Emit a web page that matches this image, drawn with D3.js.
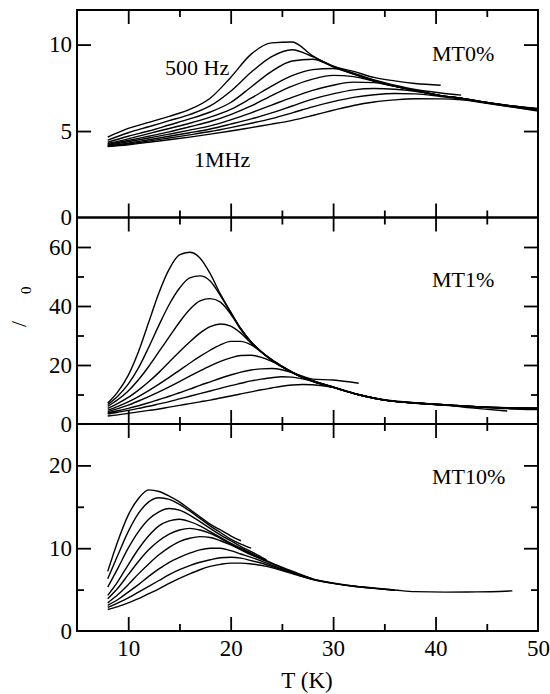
<!DOCTYPE html>
<html>
<head>
<meta charset="utf-8">
<script src="https://cdn.jsdelivr.net/npm/d3@7"></script>
<style>
  body { margin: 0; background: #fff; }
  svg { display: block; }
  text { font-family: "Liberation Serif", "Times New Roman", serif; fill: #000; }
</style>
</head>
<body>
<div id="chart"></div>
<script>
// temperature grids (K) for each panel
const tempsTop = [8, 10, 12, 14, 16, 18, 20, 22, 24, 26, 28, 30, 32, 34, 36, 38, 40.5, 42.5, 45, 47.5, 50];
const tempsMid = [8, 9, 10, 11, 12, 13, 14, 15, 16, 17, 18, 19, 20, 21, 22, 23, 24, 25, 26, 27, 28, 30, 32.5, 35, 38, 41, 44, 47, 50];
const tempsBot = [8, 9, 10, 11, 12, 13, 14, 15, 16, 17, 18, 19, 20, 21, 22, 23.5, 25, 26.5, 28, 30, 32, 34, 36, 38, 41, 44, 47.5];

// MT0% : 500 Hz ... 1 MHz (shorter arrays end earlier)
const mt0 = [
  [4.65, 5.15, 5.5, 5.85, 6.25, 6.9, 8.1, 9.45, 10.1, 10.15, 9.35, 8.75, 8.45, 8.1, 7.9, 7.75, 7.65],
  [4.47, 4.9, 5.25, 5.6, 5.95, 6.45, 7.3, 8.4, 9.3, 9.7, 9.3, 8.75, 8.35, 7.95, 7.65, 7.4, 7.2, 7.08],
  [4.35, 4.7, 5.0, 5.35, 5.7, 6.1, 6.65, 7.55, 8.45, 9.05, 9.15, 8.72, 8.3, 7.9, 7.6, 7.35, 7.05, 6.9, 6.65, 6.45, 6.3],
  [4.28, 4.55, 4.85, 5.15, 5.45, 5.8, 6.25, 6.9, 7.6, 8.2, 8.55, 8.62, 8.3, 7.9, 7.6, 7.35, 7.05, 6.9, 6.65, 6.45, 6.28],
  [4.22, 4.45, 4.7, 4.95, 5.25, 5.55, 5.95, 6.45, 7.05, 7.6, 8.0, 8.22, 8.15, 7.88, 7.6, 7.35, 7.05, 6.9, 6.65, 6.45, 6.27],
  [4.18, 4.38, 4.6, 4.82, 5.05, 5.3, 5.65, 6.05, 6.5, 6.95, 7.35, 7.65, 7.83, 7.8, 7.58, 7.35, 7.05, 6.9, 6.65, 6.43, 6.25],
  [4.14, 4.3, 4.5, 4.7, 4.9, 5.12, 5.4, 5.7, 6.05, 6.45, 6.85, 7.15, 7.38, 7.46, 7.42, 7.3, 7.05, 6.88, 6.64, 6.42, 6.22],
  [4.12, 4.25, 4.42, 4.6, 4.78, 4.97, 5.2, 5.45, 5.72, 6.05, 6.4, 6.7, 6.95, 7.1, 7.17, 7.15, 7.0, 6.86, 6.62, 6.4, 6.2],
  [4.1, 4.2, 4.35, 4.5, 4.65, 4.82, 5.0, 5.2, 5.4, 5.62, 5.9, 6.2, 6.48, 6.68, 6.8, 6.87, 6.86, 6.8, 6.6, 6.38, 6.15]
];

// MT1%
const mt1 = [
  [7.1, 11, 16.5, 24.5, 34.5, 44.5, 52.5, 57.3, 58.2, 56.3, 51, 44, 38, 32.3, 27.8, 24.5, 21.8, 19.6, 17.6, 16.2, 15.2, 14.9, 13.8],
  [6.6, 9.5, 13.5, 19, 26, 33.5, 40.5, 46, 49.5, 50.2, 48.5, 43.5, 37.8, 32.2, 27.8, 24.5, 21.8, 19.6, 17.6, 16.0, 14.7, 12.6, 10.0, 8.2, 7.2, 6.5, 5.9, 5.5, 5.35],
  [6.0, 8.3, 11.2, 15, 19.5, 24.5, 29.5, 34.5, 38.8, 41.7, 42.5, 41.3, 37.3, 32.0, 27.7, 24.4, 21.7, 19.5, 17.5, 15.9, 14.6, 12.5, 9.9, 8.1, 7.1, 6.3, 5.3, 4.4],
  [5.3, 7.0, 9.0, 11.5, 14.3, 17.5, 21, 24.5, 27.8, 30.8, 33, 33.9, 33.2, 30.8, 27.4, 24.3, 21.6, 19.4, 17.4, 15.8, 14.5, 12.4, 9.9, 8.1, 7.0, 6.4],
  [4.7, 6.0, 7.5, 9.3, 11.3, 13.5, 15.8, 18.2, 20.6, 22.9, 25, 26.8, 28, 28, 26.8, 24.4, 21.7, 19.4, 17.4, 15.8, 14.5, 12.4, 9.9, 8.1, 7.1, 6.5, 5.9, 5.45, 5.2],
  [4.2, 5.2, 6.4, 7.8, 9.3, 10.9, 12.6, 14.4, 16.2, 18, 19.7, 21.2, 22.4, 23.2, 23.3, 22.6, 21.2, 19.4, 17.5, 15.8, 14.5, 12.4, 9.9, 8.1, 7.1, 6.5, 5.9, 5.5, 5.3],
  [3.8, 4.5, 5.3, 6.2, 7.2, 8.3, 9.4, 10.6, 11.8, 13.1, 14.3, 15.5, 16.6, 17.6, 18.3, 18.7, 18.8, 18.4, 17.4, 16.0, 14.7, 12.5, 9.9, 8.1, 7.1, 6.4, 5.8, 5.2, 4.9],
  [3.4, 4.0, 4.6, 5.3, 6.0, 6.8, 7.6, 8.5, 9.4, 10.3, 11.2, 12.1, 13.0, 13.8, 14.6, 15.2, 15.7, 16.0, 15.9, 15.3, 14.5, 12.5, 9.9, 8.1, 7.1, 6.4, 5.8, 5.3, 5.1],
  [2.7, 3.1, 3.6, 4.1, 4.6, 5.1, 5.7, 6.3, 6.9, 7.5, 8.1, 8.8, 9.5, 10.2, 10.9, 11.6, 12.2, 12.8, 13.2, 13.4, 13.3, 12.4, 9.9, 8.1, 7.1, 6.4, 5.9, 5.5, 5.4]
];

// MT10%
const mt10 = [
  [7.2, 10.9, 14.0, 16.0, 17.05, 16.85, 16.3, 15.6, 14.7, 13.8, 12.9, 12.2, 11.5, 10.9],
  [6.3, 9.2, 12.0, 14.2, 15.6, 16.1, 15.9, 15.3, 14.5, 13.6, 12.7, 11.9, 11.1, 10.5, 10.0],
  [5.3, 7.6, 10.0, 12.0, 13.5, 14.4, 14.8, 14.6, 14.0, 13.2, 12.4, 11.6, 10.9, 10.2, 9.6, 8.6],
  [4.3, 6.0, 8.0, 9.9, 11.5, 12.7, 13.3, 13.5, 13.2, 12.7, 12.0, 11.3, 10.6, 10.0, 9.4, 8.5],
  [3.9, 5.2, 6.8, 8.4, 9.8, 10.9, 11.7, 12.2, 12.4, 12.2, 11.8, 11.2, 10.5, 9.9, 9.3, 8.5, 7.7, 7.0, 6.3],
  [3.4, 4.4, 5.6, 6.9, 8.1, 9.2, 10.1, 10.8, 11.2, 11.4, 11.3, 10.9, 10.4, 9.8, 9.2, 8.4, 7.6, 6.9, 6.25],
  [3.1, 3.8, 4.7, 5.6, 6.6, 7.5, 8.3, 8.9, 9.4, 9.8, 10.0, 10.0, 9.7, 9.3, 8.9, 8.2, 7.5, 6.85, 6.3, 5.8, 5.45, 5.2, 4.95],
  [2.85, 3.4, 4.0, 4.7, 5.4, 6.1, 6.8, 7.4, 7.9, 8.3, 8.6, 8.85, 8.9, 8.8, 8.5, 8.0, 7.4, 6.8, 6.25, 5.75, 5.4, 5.15, 4.9],
  [2.6, 2.95, 3.4, 3.9, 4.5, 5.1, 5.75, 6.35, 6.9, 7.4, 7.8, 8.05, 8.2, 8.2, 8.1, 7.8, 7.3, 6.75, 6.2, 5.75, 5.4, 5.15, 4.95, 4.75, 4.7, 4.72, 4.85]
];

const xMajor = [10, 20, 30, 40];
const xMinor = [15, 25, 35, 45];
const xLabels = [10, 20, 30, 40, 50];

const W = 550, H = 694;
const left = 77, right = 538;

const svg = d3.select("#chart").append("svg")
  .attr("width", W)
  .attr("height", H);

const x = d3.scaleLinear().domain([5, 50]).range([left, right]);

const panels = [
  { temps: tempsTop, curves: mt0, domain: [0, 12], bottom: 217.5, top: 10,
    major: [5, 10], minor: [], labels: [0, 5, 10], name: "MT0%", nameY: 61 },
  { temps: tempsMid, curves: mt1, domain: [0, 70], bottom: 424, top: 217.5,
    major: [20, 40, 60], minor: [10, 30, 50], labels: [0, 20, 40, 60], name: "MT1%", nameY: 287 },
  { temps: tempsBot, curves: mt10, domain: [0, 25], bottom: 631, top: 424,
    major: [10, 20], minor: [5, 15], labels: [0, 10, 20], name: "MT10%", nameY: 484 }
];

function styleTicks(g, w) {
  g.select(".domain").remove();
  g.selectAll("line").attr("stroke", "#000").attr("stroke-width", w);
}

panels.forEach(p => {
  const y = d3.scaleLinear().domain(p.domain).range([p.bottom, p.top]);
  const g = svg.append("g");

  // curves
  const line = d3.line()
    .x(d => x(d[0]))
    .y(d => y(d[1]))
    .curve(d3.curveMonotoneX);

  g.selectAll(".curve")
    .data(p.curves)
    .enter()
    .append("path")
    .attr("class", "curve")
    .attr("d", vals => line(vals.map((v, i) => [p.temps[i], v])))
    .attr("fill", "none")
    .attr("stroke", "#000")
    .attr("stroke-width", 1.4);

  // inward ticks on all four sides
  g.append("g").attr("transform", `translate(${left},0)`)
    .call(d3.axisLeft(y).tickValues(p.major).tickSize(-14).tickFormat(""))
    .call(s => styleTicks(s, 1.8));
  g.append("g").attr("transform", `translate(${left},0)`)
    .call(d3.axisLeft(y).tickValues(p.minor).tickSize(-7).tickFormat(""))
    .call(s => styleTicks(s, 1.8));
  g.append("g").attr("transform", `translate(${right},0)`)
    .call(d3.axisRight(y).tickValues(p.major).tickSize(-14).tickFormat(""))
    .call(s => styleTicks(s, 1.8));
  g.append("g").attr("transform", `translate(${right},0)`)
    .call(d3.axisRight(y).tickValues(p.minor).tickSize(-7).tickFormat(""))
    .call(s => styleTicks(s, 1.8));
  g.append("g").attr("transform", `translate(0,${p.top})`)
    .call(d3.axisTop(x).tickValues(xMajor).tickSize(-14).tickFormat(""))
    .call(s => styleTicks(s, 1.8));
  g.append("g").attr("transform", `translate(0,${p.top})`)
    .call(d3.axisTop(x).tickValues(xMinor).tickSize(-7).tickFormat(""))
    .call(s => styleTicks(s, 1.8));
  g.append("g").attr("transform", `translate(0,${p.bottom})`)
    .call(d3.axisBottom(x).tickValues(xMajor).tickSize(-14).tickFormat(""))
    .call(s => styleTicks(s, 1.8));
  g.append("g").attr("transform", `translate(0,${p.bottom})`)
    .call(d3.axisBottom(x).tickValues(xMinor).tickSize(-7).tickFormat(""))
    .call(s => styleTicks(s, 1.8));

  // y tick labels
  g.append("g").attr("transform", `translate(${left},0)`)
    .call(d3.axisLeft(y).tickValues(p.labels).tickSize(0).tickPadding(5).tickFormat(d3.format("d")))
    .call(s => s.select(".domain").remove())
    .selectAll("text")
    .attr("font-family", null)
    .style("font-size", "23px");

  // frame
  g.append("rect")
    .attr("x", left).attr("y", p.top)
    .attr("width", right - left).attr("height", p.bottom - p.top)
    .attr("fill", "none")
    .attr("stroke", "#000")
    .attr("stroke-width", 2);

  // panel name
  g.append("text")
    .attr("x", 432).attr("y", p.nameY)
    .style("font-size", "22px")
    .text(p.name);
});

// x tick labels
svg.append("g").attr("transform", `translate(0,631)`)
  .call(d3.axisBottom(x).tickValues(xLabels).tickSize(0).tickPadding(8.5).tickFormat(d3.format("d")))
  .call(s => s.select(".domain").remove())
  .selectAll("text")
  .attr("font-family", null)
  .style("font-size", "23px");

// x axis title
svg.append("text")
  .attr("x", 307).attr("y", 688)
  .attr("text-anchor", "middle")
  .style("font-size", "23px")
  .text("T (K)");

// y axis title (the epsilon glyphs are missing in the original)
const yTitle = svg.append("text")
  .attr("transform", "translate(26,327) rotate(-90)")
  .style("font-size", "22px");
yTitle.append("tspan").text("/");
yTitle.append("tspan").attr("dx", 27).attr("dy", 5)
  .style("font-size", "15px").text("0");

// frequency annotations
svg.append("text").attr("x", 165).attr("y", 75)
  .style("font-size", "22px").text("500 Hz");
svg.append("text").attr("x", 194).attr("y", 167)
  .style("font-size", "22px").text("1MHz");
</script>
</body>
</html>
